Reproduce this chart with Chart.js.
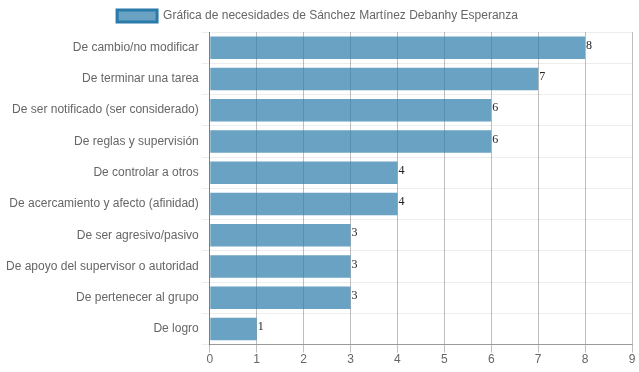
<!DOCTYPE html>
<html>
<head>
<meta charset="utf-8">
<script src="https://cdn.jsdelivr.net/npm/chart.js@4"></script>
<style>
  html, body { margin: 0; padding: 0; background: #fff; }
  #wrap { width: 639px; height: 372px; }
</style>
</head>
<body>
<div id="wrap"><canvas id="necesidadesChart"></canvas></div>
<script>
const categorias = [
    'De cambio/no modificar',
    'De terminar una tarea',
    'De ser notificado (ser considerado)',
    'De reglas y supervisión',
    'De controlar a otros',
    'De acercamiento y afecto (afinidad)',
    'De ser agresivo/pasivo',
    'De apoyo del supervisor o autoridad',
    'De pertenecer al grupo',
    'De logro'
];
const puntajes = [8, 7, 6, 6, 4, 4, 3, 3, 3, 1];
const tituloSerie = 'Gráfica de necesidades de Sánchez Martínez Debanhy Esperanza';

Chart.defaults.font.family = 'Arial, "Liberation Sans", sans-serif';
Chart.defaults.font.size = 12;
Chart.defaults.color = '#666';

// Etiqueta de valor al final de cada barra
const etiquetasValor = {
    id: 'etiquetasValor',
    afterDatasetsDraw(chart) {
        const ctx = chart.ctx;
        const meta = chart.getDatasetMeta(0);
        ctx.save();
        ctx.font = '12px "Liberation Serif", "Times New Roman", serif';
        ctx.fillStyle = '#222';
        ctx.textAlign = 'left';
        ctx.textBaseline = 'middle';
        meta.data.forEach((bar, i) => {
            ctx.fillText(chart.data.datasets[0].data[i], bar.x + 1, bar.y - 2);
        });
        ctx.restore();
    }
};

const ctx = document.getElementById('necesidadesChart').getContext('2d');
new Chart(ctx, {
    type: 'bar',
    data: {
        labels: categorias,
        datasets: [{
            label: tituloSerie,
            data: puntajes,
            backgroundColor: 'rgba(42, 122, 170, 0.7)',
            borderColor: 'rgba(42, 122, 170, 1)',
            borderWidth: 0,
            barPercentage: 0.9,
            categoryPercentage: 0.8
        }]
    },
    options: {
        indexAxis: 'y',
        responsive: true,
        maintainAspectRatio: false,
        animation: false,
        layout: { padding: { left: 3, right: 7, bottom: 5 } },
        scales: {
            x: {
                beginAtZero: true,
                min: 0,
                max: 9,
                ticks: { stepSize: 1, color: '#666', padding: 0 },
                grid: { color: 'rgba(0, 0, 0, 0.25)', tickLength: 8 },
                border: { color: 'rgba(0, 0, 0, 0.35)' }
            },
            y: {
                ticks: { color: '#666' },
                grid: { color: 'rgba(0, 0, 0, 0.07)', offset: true },
                border: { color: 'rgba(0, 0, 0, 0.35)' }
            }
        },
        plugins: {
            legend: {
                position: 'top',
                labels: {
                    boxWidth: 40,
                    color: '#666',
                    generateLabels: (chart) => [{
                        text: tituloSerie,
                        fillStyle: 'rgba(42, 122, 170, 0.7)',
                        strokeStyle: 'rgba(42, 122, 170, 1)',
                        fontColor: '#666',
                        lineWidth: 3,
                        datasetIndex: 0,
                        hidden: false
                    }]
                }
            },
            tooltip: { enabled: false }
        }
    },
    plugins: [etiquetasValor]
});
</script>
</body>
</html>
